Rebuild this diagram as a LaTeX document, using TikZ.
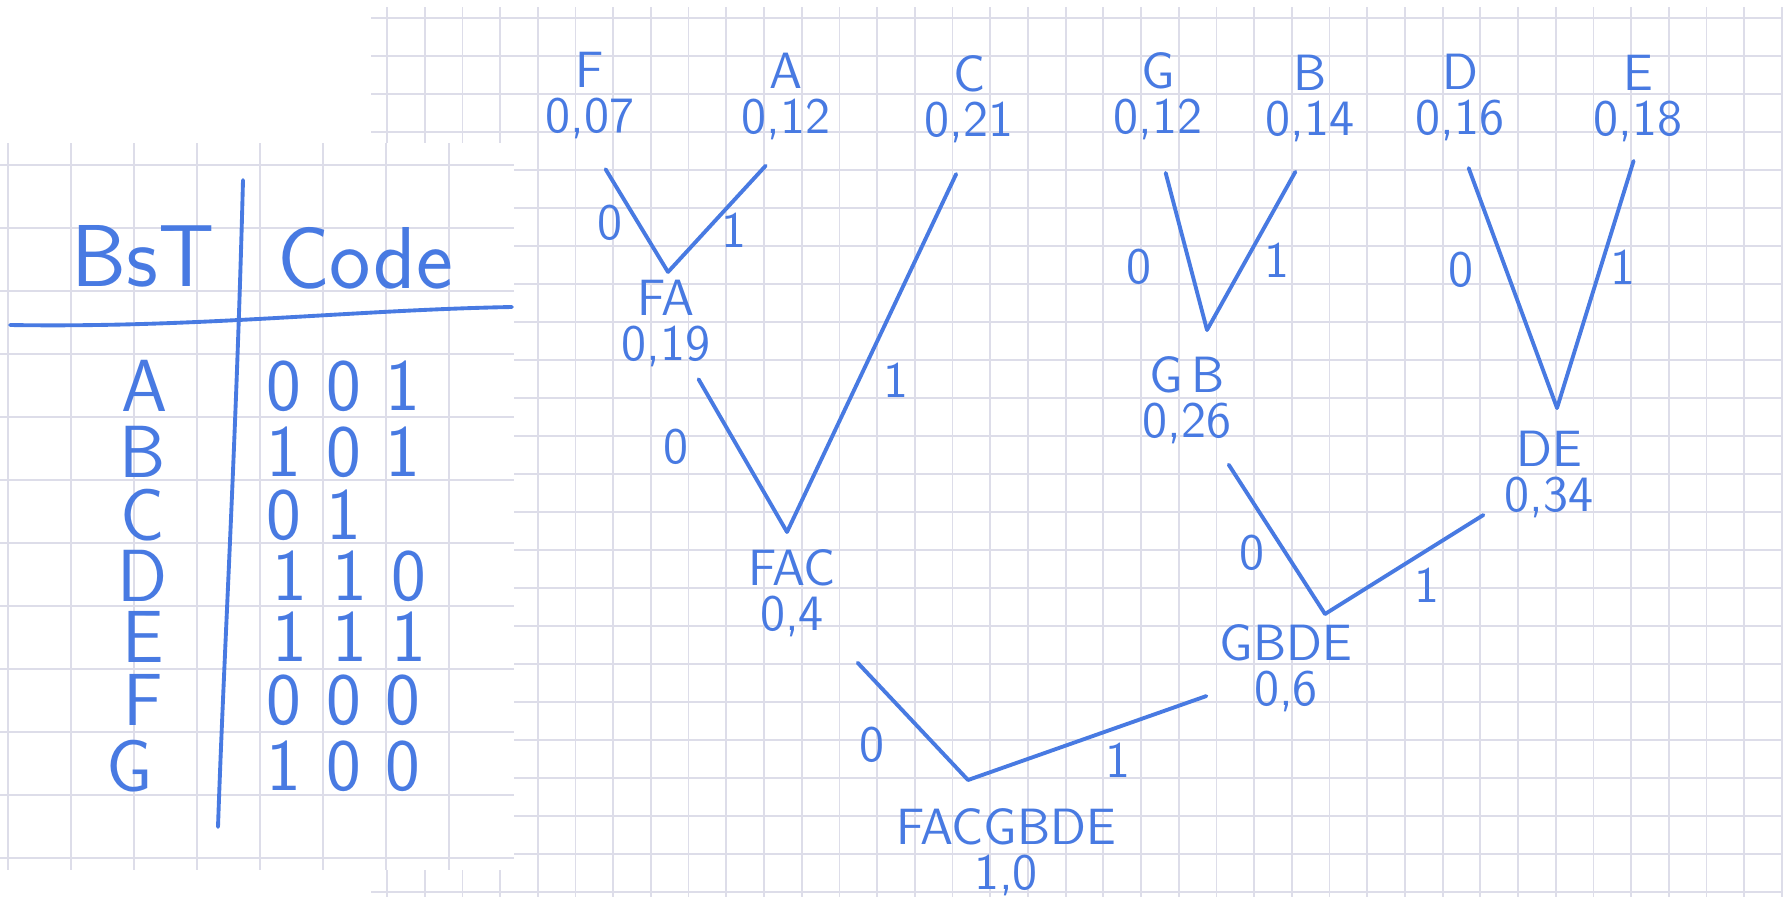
\documentclass[tikz,border=0pt]{standalone}
\usepackage{tikz}
\usetikzlibrary{positioning}
\definecolor{ink}{RGB}{72,122,226}
\definecolor{gridc}{RGB}{221,221,233}

\begin{document}
\begin{tikzpicture}[x=0.01cm, y=-0.01cm,
  lf/.style={text=ink, font=\sffamily\fontsize{14.5}{12.8}\selectfont, align=center, inner sep=1pt},
  bit/.style={text=ink, font=\sffamily\fontsize{14.5}{12.8}\selectfont, inner sep=0pt},
  hd/.style={text=ink, font=\sffamily\fontsize{25}{27}\selectfont, inner sep=0pt},
  tab/.style={text=ink, font=\sffamily\fontsize{21}{23}\selectfont, inner sep=0pt},
  ln/.style={draw=ink, line width=1.1pt, line cap=round, line join=round},
  gridl/.style={draw=gridc, line width=0.5pt}]
\useasboundingbox (0,0) rectangle (1783,897);
\fill[white] (0,0) rectangle (1783,897);

% squared paper of the tree
\foreach \i in {0,...,37} \draw[gridl] ({387+37.7*\i},7) -- ({387+37.7*\i},897);
\foreach \j in {0,...,23} \draw[gridl] (371,{18+38*\j}) -- (1783,{18+38*\j});

% paper of the table
\fill[white] (0,143) rectangle (514,870);
\foreach \i in {0,...,7} \draw[gridl] ({8+63*\i},143) -- ({8+63*\i},870);
\foreach \j in {0,...,11} \draw[gridl] (0,{165+63*\j}) -- (514,{165+63*\j});

% code table
\node[hd] (hb) at (143,256) {BsT};
\node[hd] (hc) at (365,258) {Code};
\draw[ln] (243,180) .. controls (236,450) and (224,650) .. (218,827);
\draw[ln] (10,325) .. controls (200,328) and (350,310) .. (512,307);
\node[tab] (lA) at (145,386) {A};
\node[tab] (lB) at (143,452) {B};
\node[tab] (lC) at (143,515) {C};
\node[tab] (lD) at (143,576) {D};
\node[tab] (lE) at (143,637) {E};
\node[tab] (lF) at (143,700) {F};
\node[tab] (lG) at (130,766) {G};
\node[tab, anchor=west] (cA) at (266,386) {0\,\,0\,\,1};
\node[tab, anchor=west] (cB) at (266,452) {1\,\,0\,\,1};
\node[tab, anchor=west] (cC) at (266,515) {0\,\,1};
\node[tab, anchor=west] (cD) at (272,576) {1\,\,1\,\,0};
\node[tab, anchor=west] (cE) at (272,637) {1\,\,1\,\,1};
\node[tab, anchor=west] (cF) at (266,700) {0\,\,0\,\,0};
\node[tab, anchor=west] (cG) at (266,766) {1\,\,0\,\,0};

% leaves
\node[lf] (F) at (590,96) {F\\0,07};
\node[lf] (A) at (786,96) {A\\0,12};
\node[lf] (C) at (969,99) {C\\0,21};
\node[lf] (G) at (1158,96) {G\\0,12};
\node[lf] (B) at (1310,98) {B\\0,14};
\node[lf] (D) at (1460,97) {D\\0,16};
\node[lf] (E) at (1638,99) {E\\0,18};

% inner nodes
\coordinate (vFA) at (668,272);
\coordinate (vFAC) at (787,532);
\coordinate (vGB) at (1207,330);
\coordinate (vDE) at (1557,408);
\coordinate (vGBDE) at (1325,614);
\coordinate (vR) at (968,780);
\node[lf] (FA) at (666,323) {FA\\0,19};
\node[lf] (FAC) at (792,593) {FAC\\0,4};
\node[lf] (GB) at (1187,400) {G\,B\\0,26};
\node[lf] (DE) at (1549,474) {DE\\0,34};
\node[lf] (GBDE) at (1286,668) {GBDE\\0,6};
\node[lf] (R) at (1006,852) {FACGBDE\\1,0};

% edges
\draw[ln, shorten <=0.3cm] (F.south) -- (vFA);
\draw[ln, shorten <=0.3cm] (A.south) -- (vFA);
\draw[ln, shorten <=0.3cm] (C.south) -- (vFAC);
\draw[ln, shorten <=0.3cm] (G.south) -- (vGB);
\draw[ln, shorten <=0.3cm] (B.south) -- (vGB);
\draw[ln, shorten <=0.25cm] (D.south) -- (vDE);
\draw[ln, shorten <=0.15cm] (E.south) -- (vDE);
\draw[ln, shorten <=0.1cm] (FA) -- (vFAC);
\draw[ln, shorten <=0.2cm] (GB) -- (vGBDE);
\draw[ln, shorten <=0.2cm] (DE) -- (vGBDE);
\draw[ln, shorten <=0.3cm] (FAC) -- (vR);
\draw[ln, shorten <=0.1cm] (GBDE) -- (vR);

% bits
\node[bit] (b1) at (610,223) {0};
\node[bit] (b2) at (734,230) {1};
\node[bit] (b3) at (676,447) {0};
\node[bit] (b4) at (896,380) {1};
\node[bit] (b5) at (1139,267) {0};
\node[bit] (b6) at (1277,260) {1};
\node[bit] (b7) at (1461,270) {0};
\node[bit] (b8) at (1623,267) {1};
\node[bit] (b9) at (1252,553) {0};
\node[bit] (b10) at (1427,585) {1};
\node[bit] (b11) at (872,745) {0};
\node[bit] (b12) at (1118,760) {1};
\end{tikzpicture}
\end{document}
